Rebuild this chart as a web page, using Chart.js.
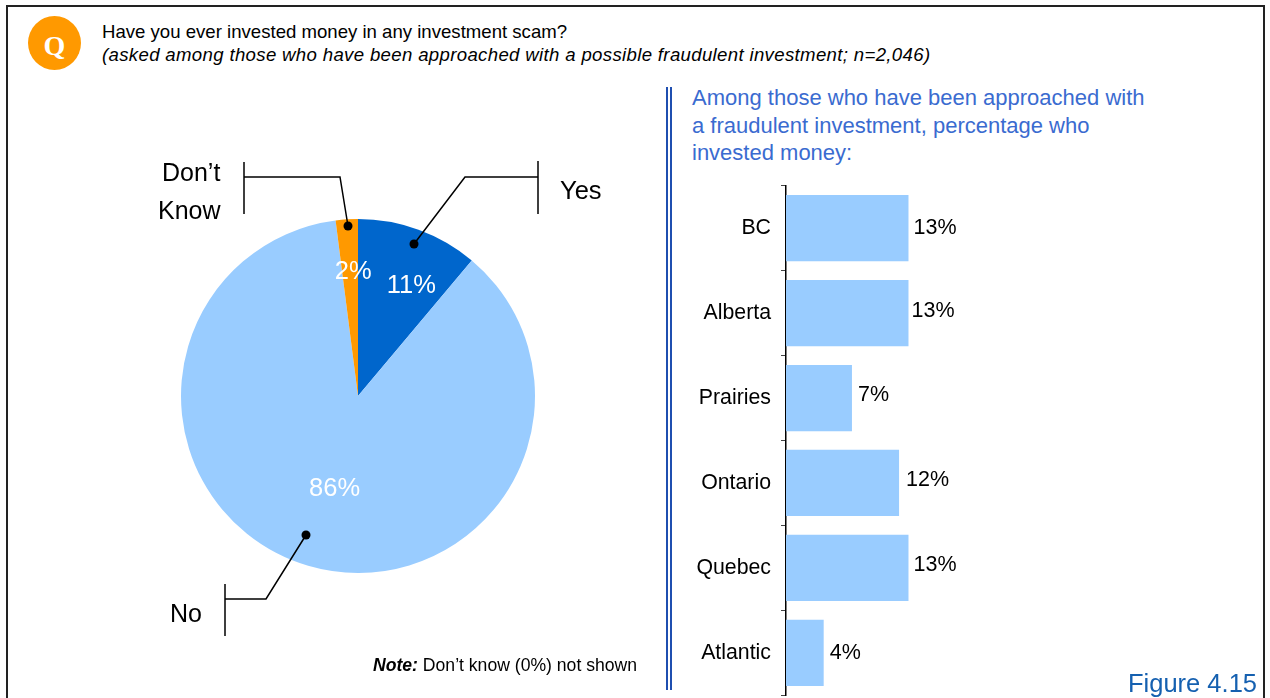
<!DOCTYPE html>
<html><head><meta charset="utf-8">
<script src="https://cdn.jsdelivr.net/npm/chart.js@4"></script>
<style>
html,body{margin:0;padding:0;background:#fff;width:1270px;height:698px;overflow:hidden;font-family:"Liberation Sans",Arial,sans-serif;color:#000}
#frame{position:absolute;left:6px;top:5px;width:1259px;height:720px;border:2px solid #222;box-sizing:border-box}
.t{position:absolute;white-space:nowrap}
#q{position:absolute;left:28px;top:16px;width:53px;height:54px;border-radius:50%;background:#ff9900;color:#fff;font:bold 28px "Liberation Serif",serif;text-align:center;line-height:60px}
canvas{position:absolute}
#rule{position:absolute;left:666px;top:87px;width:2px;height:603px;border-left:2px solid #1f4fb0;border-right:2px solid #1f4fb0}
svg{position:absolute;left:0;top:0}
</style></head><body>
<div id="frame"></div>
<div id="q">Q</div>
<div class="t" style="left:102px;top:21px;font-size:18.6px">Have you ever invested money in any investment scam?</div>
<div class="t" style="left:102px;top:44px;font-size:18.6px;font-style:italic;letter-spacing:0.34px">(asked among those who have been approached with a possible fraudulent investment; n=2,046)</div>
<div id="rule"></div>
<div class="t" style="left:692px;top:84px;font-size:22px;line-height:27.5px;color:#3a6bd0">Among those who have been approached with<br>a fraudulent investment, percentage who<br>invested money:</div>
<canvas id="pie" width="420" height="420" style="left:148px;top:186px;width:420px;height:420px"></canvas>
<canvas id="bar" width="380" height="555" style="left:680px;top:163px;width:380px;height:555px"></canvas>
<svg width="1270" height="698">
<g fill="none" stroke="#000" stroke-width="1.5">
<path d="M244 162V214M244 177H340L348 226"/>
<path d="M538 161V214M538 177H465L414 244"/>
<path d="M225 584V636M225 599H266L306 535"/>
</g>
<circle cx="348" cy="226" r="4.5"/><circle cx="414" cy="244" r="4.5"/><circle cx="306" cy="535" r="4.5"/>
</svg>
<div class="t" style="left:162px;top:158px;font-size:25px">Don’t</div>
<div class="t" style="left:158px;top:196px;font-size:25px">Know</div>
<div class="t" style="left:560px;top:176px;font-size:25.5px">Yes</div>
<div class="t" style="left:170px;top:599px;font-size:25px">No</div>
<div class="t" style="left:373px;top:655px;font-size:17.6px"><b><i>Note:</i></b> Don’t know (0%) not shown</div>
<div class="t" style="left:1128px;top:669px;font-size:25.5px;color:#1560b0">Figure 4.15</div>
<script>
const pieLabels = ['Yes','No',"Don't Know"];
const pieValues = [11,86,2];
const pieColors = ['#0066cc','#99ccff','#ff9900'];
const pieLabelRadius = [0.70,0.55,0.70];
const pieLabelShiftX = [11,4,3];
const pieLabelShiftY = [6,0,0];
const regions = ['BC','Alberta','Prairies','Ontario','Quebec','Atlantic'];
const regionValues = [13,13,7,12,13,4];
const regionLabelShiftY = [0,-2,-3,-3,-3,0];
const regionLabelShiftX = [5,3,6,7,5,6];
const font = '"Liberation Sans",Arial,sans-serif';
Chart.defaults.animation = false;
Chart.defaults.font.family = font;

new Chart(document.getElementById('pie'),{
  type:'pie',
  data:{labels:pieLabels,datasets:[{data:pieValues,backgroundColor:pieColors,borderWidth:0}]},
  options:{responsive:false,layout:{padding:{left:33,right:33,top:33,bottom:33}},
    plugins:{legend:{display:false},tooltip:{enabled:false}}},
  plugins:[{id:'pieText',afterDatasetsDraw(c){
    const g=c.ctx;g.save();g.fillStyle='#fff';g.font='25.5px '+font;g.textAlign='center';g.textBaseline='middle';
    c.getDatasetMeta(0).data.forEach((a,i)=>{
      const m=(a.startAngle+a.endAngle)/2,r=a.outerRadius*pieLabelRadius[i];
      g.fillText(pieValues[i]+'%',a.x+Math.cos(m)*r+pieLabelShiftX[i],a.y+Math.sin(m)*r+pieLabelShiftY[i]);
    });g.restore();
  }}]
});

new Chart(document.getElementById('bar'),{
  type:'bar',
  data:{labels:regions,datasets:[{data:regionValues,backgroundColor:'#99ccff',borderWidth:0,barPercentage:0.78,categoryPercentage:1}]},
  options:{indexAxis:'y',responsive:false,
    layout:{padding:0},
    scales:{
      x:{min:0,max:29.08,display:false},
      y:{afterFit(s){s.width=106},grid:{drawOnChartArea:false,drawTicks:true,tickLength:5,color:'#444',offset:true},
        border:{display:true,color:'#000',width:1.5},
        ticks:{color:'#000',padding:10,font:{size:21.3}}}
    },
    plugins:{legend:{display:false},tooltip:{enabled:false}}},
  plugins:[{id:'barText',afterDatasetsDraw(c){
    const g=c.ctx;g.save();g.fillStyle='#000';g.font='21.5px '+font;g.textAlign='left';g.textBaseline='middle';
    c.getDatasetMeta(0).data.forEach((b,i)=>{g.fillText(regionValues[i]+'%',b.x+regionLabelShiftX[i],b.y+regionLabelShiftY[i]);});
    g.restore();
  }}]
});
</script>
</body></html>
